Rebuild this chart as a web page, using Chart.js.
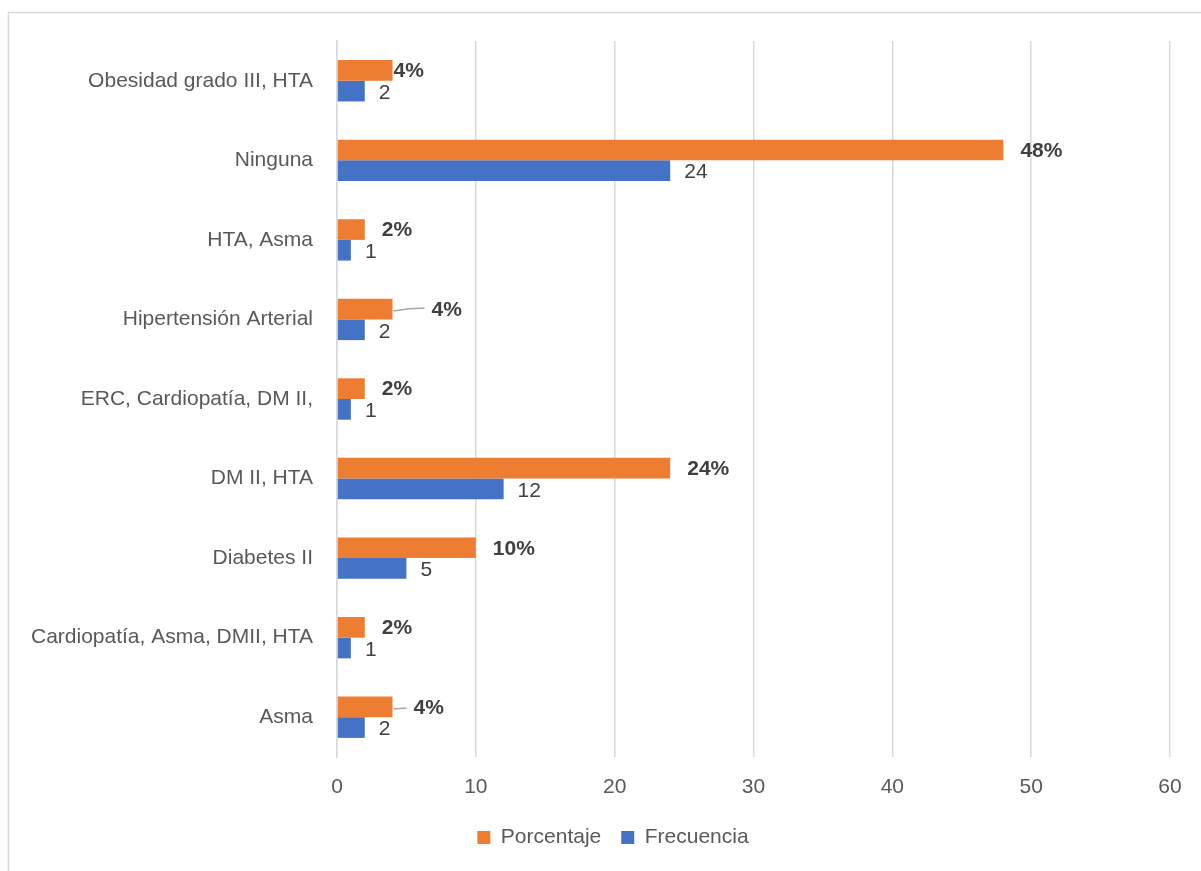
<!DOCTYPE html>
<html>
<head>
<meta charset="utf-8">
<script src="https://cdn.jsdelivr.net/npm/chart.js@4/dist/chart.umd.min.js"></script>
<style>
  html, body { margin: 0; padding: 0; background: #fff; }
  #wrap { width: 1201px; height: 871px; position: relative; }
</style>
</head>
<body>
<div id="wrap"><canvas id="chart" width="1201" height="871"></canvas></div>
<script>
// categories, top to bottom as drawn
var categories = [
  'Obesidad grado III, HTA',
  'Ninguna',
  'HTA, Asma',
  'Hipertensión Arterial',
  'ERC, Cardiopatía, DM II,',
  'DM II, HTA',
  'Diabetes II',
  'Cardiopatía, Asma, DMII, HTA',
  'Asma'
];
var porcentaje = [4, 48, 2, 4, 2, 24, 10, 2, 4];
var frecuencia = [2, 24, 1, 2, 1, 12, 5, 1, 2];
var xTicks = [0, 10, 20, 30, 40, 50, 60];

var FONT = "'Liberation Sans', Arial, sans-serif";
var FSIZE = 21;

// frame around the whole chart, like the office chart border
var framePlugin = {
  id: 'frame',
  beforeDraw: function(chart) {
    var c = chart.ctx;
    c.save();
    c.fillStyle = '#fff';
    c.fillRect(0, 0, chart.width, chart.height);
    c.strokeStyle = '#d9d9d9';
    c.lineWidth = 1.5;
    c.strokeRect(8.5, 12.5, 1400, 1000);
    c.restore();
  }
};

// legend is centred under the plot, not the whole canvas
var legendShift = {
  id: 'legendShift',
  afterLayout: function(chart) {
    if (chart.legend) {
      chart.legend.left += 28;
      chart.legend.right += 28;
    }
  }
};

// value labels next to the bar ends
var labelPlugin = {
  id: 'barLabels',
  afterDatasetsDraw: function(chart) {
    var c = chart.ctx;
    c.save();
    c.textBaseline = 'middle';
    c.textAlign = 'left';
    chart.data.datasets.forEach(function(ds, di) {
      var meta = chart.getDatasetMeta(di);
      meta.data.forEach(function(bar, i) {
        var v = ds.data[i];
        var x = bar.x, y = bar.y;
        if (di === 0) {
          var gap = 17;
          if (i === 0) gap = 1;
          if (i === 3) gap = 39;
          if (i === 8) gap = 21;
          if (i === 3 || i === 8) {
            c.strokeStyle = '#a6a6a6';
            c.lineWidth = 1.5;
            c.beginPath();
            c.moveTo(x + 1, y + 2);
            if (i === 3) c.quadraticCurveTo(x + 16, y - 1, x + gap - 7, y - 1);
            else c.lineTo(x + gap - 7, y + 1);
            c.stroke();
          }
          c.font = 'bold ' + FSIZE + 'px ' + FONT;
          c.fillStyle = '#404040';
          c.fillText(v + '%', x + gap, y + 1);
        } else {
          c.font = FSIZE + 'px ' + FONT;
          c.fillStyle = '#404040';
          c.fillText(String(v), x + 14, y + 2);
        }
      });
    });
    c.restore();
  }
};

var ctx = document.getElementById('chart');
new Chart(ctx, {
  type: 'bar',
  data: {
    labels: categories,
    datasets: [
      {
        label: 'Porcentaje',
        data: porcentaje,
        backgroundColor: '#ED7D31',
        borderWidth: 0,
        categoryPercentage: 0.52,
        barPercentage: 1.0
      },
      {
        label: 'Frecuencia',
        data: frecuencia,
        backgroundColor: '#4472C4',
        borderWidth: 0,
        categoryPercentage: 0.52,
        barPercentage: 1.0
      }
    ]
  },
  options: {
    indexAxis: 'y',
    responsive: false,
    animation: false,
    layout: { padding: { left: 0, right: 31, top: 41, bottom: 13 } },
    scales: {
      x: {
        min: 0,
        max: 60,
        afterBuildTicks: function(axis) {
          axis.ticks = xTicks.map(function(v) { return { value: v }; });
        },
        grid: { color: '#d9d9d9', lineWidth: 1.5, drawTicks: false },
        border: { display: false },
        ticks: { color: '#595959', font: { family: FONT, size: FSIZE }, padding: 18 },
        afterFit: function(axis) { axis.height = 50; }
      },
      y: {
        grid: { display: false, drawTicks: false },
        border: { display: true, color: '#d9d9d9', width: 1.5 },
        ticks: { color: '#595959', font: { family: FONT, size: FSIZE }, padding: 24 },
        afterFit: function(axis) { axis.width = 337; }
      }
    },
    plugins: {
      legend: {
        position: 'bottom',
        labels: {
          color: '#595959',
          font: { family: FONT, size: FSIZE },
          boxWidth: 13,
          boxHeight: 13,
          padding: 20
        }
      },
      tooltip: { enabled: false }
    }
  },
  plugins: [framePlugin, legendShift, labelPlugin]
});
</script>
</body>
</html>
